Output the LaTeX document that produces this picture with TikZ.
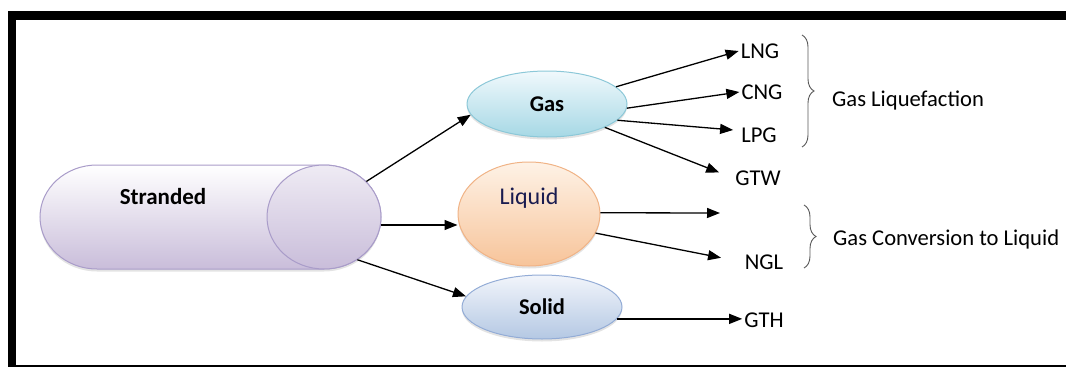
\documentclass[tikz,border=0pt]{standalone}
\usepackage{fontspec}
\setmainfont{Carlito}
\usetikzlibrary{shapes.geometric,arrows.meta,decorations.pathreplacing,shadows}

\definecolor{capfill}{HTML}{C9BDDA}
\definecolor{capline}{HTML}{A99CC9}
\definecolor{gastop}{HTML}{F0F9FC}
\definecolor{gasbot}{HTML}{A6D8E5}
\definecolor{gasline}{HTML}{8CC8D8}
\definecolor{liqtop}{HTML}{FEF2E6}
\definecolor{liqbot}{HTML}{F7C49A}
\definecolor{liqline}{HTML}{F0B386}
\definecolor{soltop}{HTML}{F2F5FB}
\definecolor{solbot}{HTML}{B4C8E3}
\definecolor{solline}{HTML}{93ACD6}
\definecolor{navy}{HTML}{1A1C50}

\begin{document}
\begin{tikzpicture}[x=1pt,y=-1pt,
  bubble/.style={ellipse, inner sep=0pt, draw, line width=1pt,
    drop shadow={shadow xshift=0pt, shadow yshift=-2.5pt, opacity=.22}},
  prod/.style={inner sep=2pt, font=\fontsize{22.6}{26}\selectfont},
  flow/.style={-{Triangle[length=13pt,width=10pt]}, line width=1.3pt},
  grp/.style={decorate, decoration={brace, amplitude=12pt},
    draw=black!65, line width=0.9pt},
]
\useasboundingbox (0,0) rectangle (1066,367);

% frame
\fill (8,11) rectangle (1066,20);
\fill (8,11) rectangle (16,367);
\fill (8,365) rectangle (1066,367);

% stranded capsule
\path[draw=capline, line width=1pt, top color=white, bottom color=capfill,
      drop shadow={shadow xshift=0pt, shadow yshift=-2.5pt, opacity=.22}]
  (97,165) -- (324,165)
  arc[start angle=90, end angle=-90, x radius=57pt, y radius=52pt]
  -- (97,269)
  arc[start angle=270, end angle=90, x radius=57pt, y radius=52pt]
  -- cycle;
\node[ellipse, inner sep=0pt, draw=capline, line width=1pt,
      top color=white!70!capfill, bottom color=capfill,
      minimum width=114pt, minimum height=104pt] (cap) at (324,217) {};
\node[font=\bfseries\fontsize{23}{27}\selectfont] (stranded) at (163,197) {Stranded};

% states
\node[bubble, draw=gasline, top color=gastop, bottom color=gasbot,
      minimum width=160pt, minimum height=66pt,
      font=\bfseries\fontsize{22.5}{26}\selectfont] (gas) at (547,104) {Gas};
\node[bubble, draw=liqline, top color=liqtop, bottom color=liqbot,
      minimum width=142pt, minimum height=104pt] (liquid) at (529,214) {};
\node[text=navy, font=\fontsize{24}{28}\selectfont] (liqtext) at (529,198) {Liquid};
\node[bubble, draw=solline, top color=soltop, bottom color=solbot,
      minimum width=160pt, minimum height=64pt,
      font=\bfseries\fontsize{22.5}{26}\selectfont] (solid) at (542,307) {Solid};

% products
\node[prod] (lng) at (760,51) {LNG};
\node[prod] (cng) at (762,92) {CNG};
\node[prod] (lpg) at (759,135) {LPG};
\node[prod] (gtw) at (758,178) {GTW};
\coordinate (gtl) at (720,213);
\node[prod] (ngl) at (764,262) {NGL};
\node[prod] (gth) at (764,320) {GTH};

% connectors
\draw[flow] (cap.40) -- (gas.188);
\draw[flow] (cap.-8) -- (cap.-8 -| liquid.west);
\draw[flow] (cap.-52) -- (solid.172);
\draw[flow] (gas.14) -- (lng.west);
\draw[flow] (gas.-3) -- (cng.west);
\draw[flow] (gas.-13) -- ([xshift=-6pt,yshift=5pt]lpg.west);
\draw[flow, shorten >=15pt] (gas.-22) -- (gtw.west);
\draw[flow] (liquid.1) -- (gtl);
\draw[flow, shorten >=22pt] (liquid.-16) -- (ngl.west);
\draw[flow] (solid.-9) -- (solid.-9 -| gth.west);

% groupings
\coordinate (b1t) at (802,35);
\coordinate (b1b) at (802,147);
\coordinate (b2t) at (804,205);
\coordinate (b2b) at (804,268);
\draw[grp] (b1t) -- (b1b);
\draw[grp] (b2t) -- (b2b);
\node[prod, anchor=west] (liqf) at (830,101) {Gas Liquefaction};
\node[prod, anchor=west] (conv) at (831,239) {Gas Conversion to Liquid};
\end{tikzpicture}
\end{document}
